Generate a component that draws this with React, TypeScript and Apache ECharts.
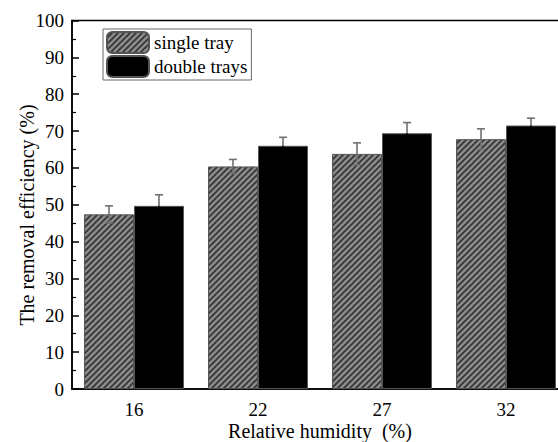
import React, { useEffect, useRef } from "react";
import * as echarts from "echarts";

const categories = ["16", "22", "27", "32"];
const singleTray = [47.4, 60.4, 63.8, 67.8];
const singleErr = [2.3, 1.9, 3.0, 2.8];
const doubleTrays = [49.7, 66.0, 69.4, 71.5];
const doubleErr = [3.0, 2.3, 2.9, 2.0];
const yTicks = { min: 0, max: 100, interval: 10 };

const FONT = "Liberation Serif";
const GAP = 0.194;

function errSeries(name: string, vals: number[], errs: number[], side: number, lowerColor: string) {
  return {
    type: "custom",
    name: name + " err",
    z: 10,
    silent: true,
    encode: { x: 0, y: 1 },
    data: vals.map((v, i) => [i, v, errs[i]]),
    renderItem: (params: any, api: any) => {
      const idx = api.value(0);
      const v = api.value(1);
      const e = api.value(2);
      const catW = api.size([1, 0])[0];
      const barW = (catW * (1 - GAP)) / 2;
      const mid = api.coord([idx, v]);
      const top = api.coord([idx, v + e]);
      const bot = api.coord([idx, v - e]);
      const x = mid[0] + (side * barW) / 2;
      const cap = 4;
      const upper = { stroke: "#707070", lineWidth: 1.6 };
      const lower = { stroke: lowerColor, lineWidth: 1.6 };
      return {
        type: "group",
        children: [
          { type: "line", shape: { x1: x, y1: mid[1], x2: x, y2: top[1] }, style: upper },
          { type: "line", shape: { x1: x - cap, y1: top[1], x2: x + cap, y2: top[1] }, style: upper },
          { type: "line", shape: { x1: x, y1: mid[1], x2: x, y2: bot[1] }, style: lower },
          { type: "line", shape: { x1: x - cap, y1: bot[1], x2: x + cap, y2: bot[1] }, style: lower },
        ],
      };
    },
  };
}

function makeHatch() {
  const s = 6;
  const c = document.createElement("canvas");
  c.width = s;
  c.height = s;
  const ctx = c.getContext("2d")!;
  ctx.fillStyle = "#8c8c8c";
  ctx.fillRect(0, 0, s, s);
  ctx.strokeStyle = "#333";
  ctx.lineWidth = 1.6;
  ctx.beginPath();
  ctx.moveTo(-1, s + 1);
  ctx.lineTo(s + 1, -1);
  ctx.moveTo(-s / 2 - 1, s / 2 + 1);
  ctx.lineTo(s / 2 + 1, -s / 2 - 1);
  ctx.moveTo(s / 2 - 1, s * 1.5 + 1);
  ctx.lineTo(s * 1.5 + 1, s / 2 - 1);
  ctx.stroke();
  return c;
}

export default function App() {
  const ref = useRef<HTMLDivElement>(null);
  useEffect(() => {
    if (!ref.current) return;
    const chart = echarts.init(ref.current, null, { renderer: "svg" });
    const hatchFill = { image: makeHatch(), repeat: "repeat" };
    chart.setOption({
      animation: false,
      backgroundColor: "#fff",
      textStyle: { fontFamily: FONT },
      grid: {
        left: 72,
        top: 20.5,
        width: 496,
        height: 368.5,
        show: true,
        borderColor: "#000",
        borderWidth: 1.5,
        containLabel: false,
      },
      legend: {
        left: 103,
        top: 29,
        orient: "vertical",
        itemWidth: 42,
        itemHeight: 21,
        itemGap: 1,
        padding: [2, 4, 2, 3],
        borderColor: "#666",
        borderWidth: 1,
        backgroundColor: "#fff",
        textStyle: { fontFamily: FONT, fontSize: 19, color: "#000" },
        data: ["single tray", "double trays"],
      },
      xAxis: {
        type: "category",
        data: categories,
        axisLine: { show: true, lineStyle: { color: "#000", width: 1.5 } },
        axisTick: { show: false },
        axisLabel: { fontFamily: FONT, fontSize: 19, color: "#000", margin: 11 },
        splitLine: { show: false },
      },
      yAxis: {
        type: "value",
        min: yTicks.min,
        max: yTicks.max,
        interval: yTicks.interval,
        axisLine: { show: true, lineStyle: { color: "#000", width: 1.5 } },
        axisTick: { show: true, inside: true, length: 7, lineStyle: { color: "#000", width: 1.5 } },
        minorTick: { show: true, splitNumber: 2, length: 4, lineStyle: { color: "#000", width: 1.2 } },
        axisLabel: { fontFamily: FONT, fontSize: 19, color: "#000", margin: 8 },
        splitLine: { show: false },
      },
      graphic: [
        {
          type: "text",
          x: 27,
          y: 215,
          rotation: Math.PI / 2,
          style: {
            text: "The removal efficiency (%)",
            fontFamily: FONT,
            fontSize: 20,
            fill: "#000",
            textAlign: "center",
            textVerticalAlign: "middle",
          },
        },
        {
          type: "text",
          x: 320,
          y: 431,
          style: {
            text: "Relative humidity  (%)",
            fontFamily: FONT,
            fontSize: 20,
            fill: "#000",
            textAlign: "center",
            textVerticalAlign: "middle",
          },
        },
      ],
      series: [
        {
          type: "bar",
          name: "single tray",
          data: singleTray,
          barGap: "0%",
          barCategoryGap: GAP * 100 + "%",
          itemStyle: { color: hatchFill, borderColor: "#555", borderWidth: 1 },
        },
        {
          type: "bar",
          name: "double trays",
          data: doubleTrays,
          barGap: "0%",
          barCategoryGap: GAP * 100 + "%",
          itemStyle: { color: "#000", borderColor: "#555", borderWidth: 1 },
        },
        errSeries("single tray", singleTray, singleErr, -1, "#707070"),
        errSeries("double trays", doubleTrays, doubleErr, 1, "#000"),
      ],
    });
    return () => chart.dispose();
  }, []);
  return (
    <div style={{ position: "absolute", left: 0, top: 0, width: 558, height: 442, overflow: "hidden" }}>
      <div ref={ref} style={{ width: 620, height: 442 }} />
    </div>
  );
}
